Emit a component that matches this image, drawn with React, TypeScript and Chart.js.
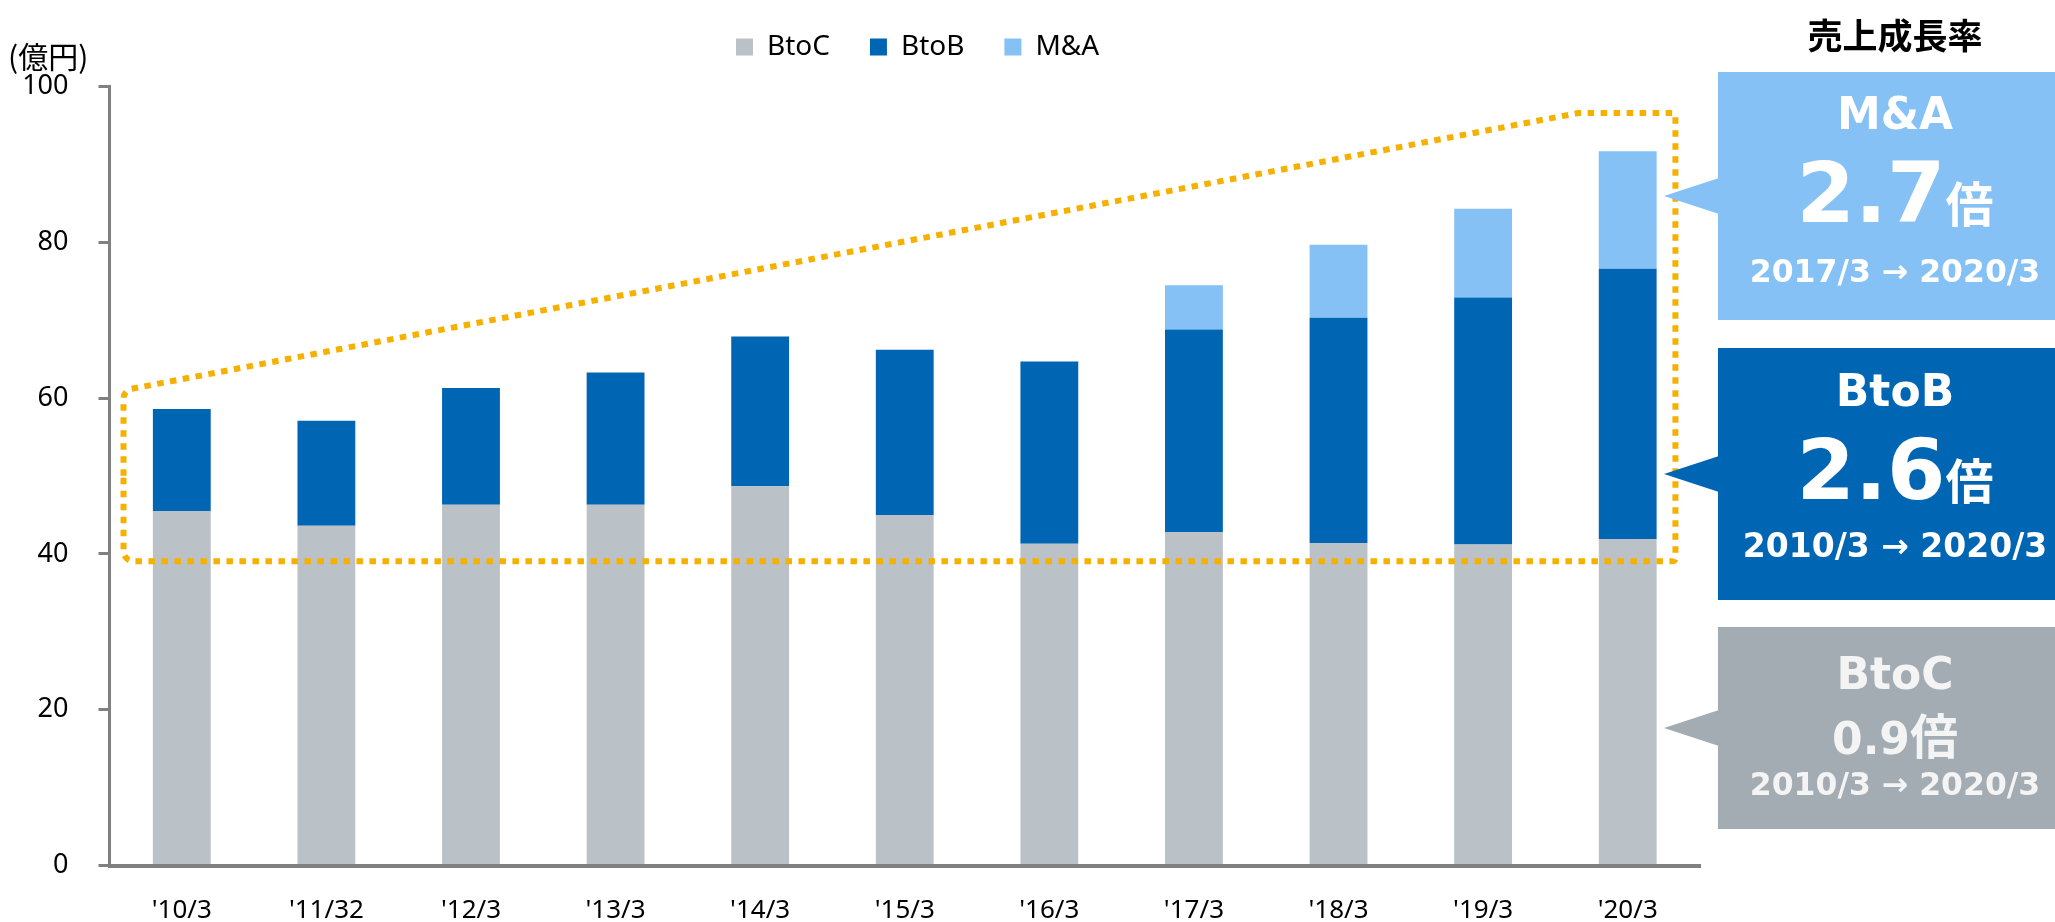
import React, { useEffect, useRef } from 'react';
import { Chart, registerables } from 'chart.js';

Chart.register(...registerables);

// ---------- data ----------
const categories = ["'10/3", "'11/32", "'12/3", "'13/3", "'14/3", "'15/3", "'16/3", "'17/3", "'18/3", "'19/3", "'20/3"];
const btocValues = [45.5, 43.6, 46.3, 46.3, 48.7, 45.0, 41.3, 42.8, 41.4, 41.2, 41.9];
const btobValues = [13.1, 13.5, 15.0, 17.0, 19.2, 21.2, 23.4, 26.0, 28.9, 31.7, 34.7];
const maValues = [null, null, null, null, null, null, null, 5.7, 9.4, 11.4, 15.1];
const yTicks = [0, 20, 40, 60, 80, 100];
const seriesNames = ['BtoC', 'BtoB', 'M&A'];
const seriesColors = ['#BAC2C8', '#0066B3', '#85C1F5'];
// dashed highlight outline, in (category index, value) units
const outlineX = [-0.403, 9.66, 10.33, 10.33, -0.403];
const outlineY = [61.0, 96.6, 96.6, 39.05, 39.05];
const unitLabel = '(億円)';
const growthTitle = '売上成長率';
const growthSeries = ['M&A', 'BtoB', 'BtoC'];
const growthRates = ['2.7', '2.6', '0.9'];
const growthUnit = '倍';
const growthPeriods = ['2017/3 → 2020/3', '2010/3 → 2020/3', '2010/3 → 2020/3'];

const LEGEND_START_X = 736;
const LEGEND_CENTER_Y = 47;

const outlinePlugin = {
  id: 'highlightOutline',
  afterDatasetsDraw(chart: any) {
    const { ctx } = chart;
    const xs = chart.scales.x;
    const ys = chart.scales.y;
    const pts = outlineX.map((v, i) => ({ x: xs.getPixelForValue(v), y: ys.getPixelForValue(outlineY[i]) }));
    const radii = [10, 3, 2, 3, 10];
    const n = pts.length;
    ctx.save();
    ctx.strokeStyle = '#F5B000';
    ctx.lineWidth = 6;
    ctx.setLineDash([6.5, 6.5]);
    ctx.lineCap = 'butt';
    ctx.beginPath();
    const sx = (pts[n - 1].x + pts[0].x) / 2;
    const sy = (pts[n - 1].y + pts[0].y) / 2;
    ctx.moveTo(sx, sy);
    for (let i = 0; i < n; i++) {
      const p = pts[i];
      const q = pts[(i + 1) % n];
      ctx.arcTo(p.x, p.y, q.x, q.y, radii[i]);
    }
    ctx.closePath();
    ctx.stroke();
    ctx.restore();
  },
};

const legendShiftPlugin = {
  id: 'legendShift',
  afterLayout(chart: any) {
    const l = chart.legend;
    if (!l || !l.lineWidths) return;
    const pad = l.options.labels.padding;
    const fontSize = l.options.labels.font.size || 12;
    const boxH = l.options.labels.boxHeight || fontSize;
    const itemH = Math.max(fontSize, boxH);
    const x0 = (l.left + pad + l.right - l.lineWidths[0]) / 2;
    const dx = LEGEND_START_X - x0;
    const dy = LEGEND_CENTER_Y - (l.top + pad + itemH / 2);
    l.left += dx;
    l.right += dx;
    l.top += dy;
    l.bottom += dy;
  },
};

const PANEL_LEFT = 1718;
const PANEL_WIDTH = 337;
const TEXT_WIDTH = 354;
const boxTops = [72, 348, 627];
const boxHeights = [248, 252, 202];
const boxColors = ['#85C1F5', '#0066B3', '#A2ACB2'];
const textColors = ['#FFFFFF', '#FFFFFF', '#F4F4F4'];
const labelBaselines = [129, 406, 689];
const rateBaselines = [222, 499, 746];
const rateSizes = [84, 84, 44];
const unitSizes = [48, 48, 48];
const periodBaselines = [282.5, 557, 795.5];
const periodSizes = [31.5, 33, 31.5];

const DV = '"DejaVu Sans", "Noto Sans CJK JP", sans-serif';
const CJK = '"Noto Sans CJK JP", sans-serif';

function Line(props: { baseline: number; size: number; color: string; children: any; family?: string }) {
  const { baseline, size, color, children, family } = props;
  return (
    <div
      style={{
        position: 'absolute',
        left: PANEL_LEFT,
        width: TEXT_WIDTH,
        top: baseline - 0.846 * size,
        fontSize: size,
        lineHeight: 1,
        fontWeight: 'bold',
        fontFamily: family || DV,
        color,
        textAlign: 'center',
        whiteSpace: 'nowrap',
      }}
    >
      {children}
    </div>
  );
}

export default function App() {
  const ref = useRef<HTMLCanvasElement>(null);

  useEffect(() => {
    document.body.style.margin = '0';
    Chart.defaults.font.family = '"Noto Sans", "Noto Sans CJK JP", sans-serif';
    const chart = new Chart(ref.current as HTMLCanvasElement, {
      type: 'bar',
      data: {
        labels: categories,
        datasets: [
          { label: seriesNames[0], data: btocValues, backgroundColor: seriesColors[0] },
          { label: seriesNames[1], data: btobValues, backgroundColor: seriesColors[1] },
          { label: seriesNames[2], data: maValues as any, backgroundColor: seriesColors[2] },
        ],
      },
      options: {
        responsive: false,
        animation: false,
        devicePixelRatio: 1,
        layout: { padding: { top: 8.5, right: 355, left: 0, bottom: 0 } },
        datasets: { bar: { categoryPercentage: 1, barPercentage: 0.4 } },
        plugins: {
          legend: {
            position: 'top',
            labels: { boxWidth: 17, boxHeight: 17, padding: 40, color: '#000', font: { size: 28 } },
          },
          tooltip: { enabled: false },
        },
        scales: {
          x: {
            stacked: true,
            grid: { display: false, drawTicks: false },
            border: { color: '#808080', width: 4 },
            ticks: { color: '#000', font: { size: 26 }, padding: 29 },
            afterFit: (s: any) => {
              s.height = 56.5;
            },
          },
          y: {
            stacked: true,
            min: 0,
            max: 100,
            afterBuildTicks: (s: any) => {
              s.ticks = yTicks.map((v) => ({ value: v }));
            },
            grid: { drawOnChartArea: false, drawTicks: true, tickLength: 11, color: '#808080', lineWidth: 3 },
            border: { color: '#808080', width: 3 },
            ticks: { color: '#000', font: { size: 27 }, padding: 30 },
            afterFit: (s: any) => {
              s.width = 109.5;
            },
          },
        },
      } as any,
      plugins: [outlinePlugin, legendShiftPlugin],
    });
    return () => chart.destroy();
  }, []);

  return (
    <div style={{ position: 'relative', width: 2055, height: 922, overflow: 'hidden', background: '#fff' }}>
      <canvas ref={ref} width={2055} height={922} style={{ position: 'absolute', left: 0, top: 0, width: 2055, height: 922 }} />
      <div
        style={{
          position: 'absolute',
          left: 8,
          top: 39.5,
          fontSize: 30,
          lineHeight: 1,
          fontFamily: CJK,
          color: '#000',
          whiteSpace: 'nowrap',
        }}
      >
        {unitLabel}
      </div>
      <div
        style={{
          position: 'absolute',
          left: PANEL_LEFT,
          width: TEXT_WIDTH,
          top: 15.5,
          fontSize: 35,
          lineHeight: 1,
          fontWeight: 'bold',
          fontFamily: CJK,
          color: '#000',
          textAlign: 'center',
          whiteSpace: 'nowrap',
        }}
      >
        {growthTitle}
      </div>
      {growthSeries.map((name, i) => {
        const mid = boxTops[i] + boxHeights[i] / 2;
        return (
          <React.Fragment key={name}>
            <div
              style={{
                position: 'absolute',
                left: PANEL_LEFT,
                top: boxTops[i],
                width: PANEL_WIDTH,
                height: boxHeights[i],
                background: boxColors[i],
              }}
            />
            <div
              style={{
                position: 'absolute',
                left: PANEL_LEFT - 54,
                top: mid - 18,
                width: 55,
                height: 36,
                background: boxColors[i],
                clipPath: 'polygon(0% 50%, 100% 0%, 100% 100%)',
              }}
            />
            <Line baseline={labelBaselines[i]} size={44} color={textColors[i]}>
              {name}
            </Line>
            <Line baseline={rateBaselines[i]} size={rateSizes[i]} color={textColors[i]}>
              {growthRates[i]}
              <span style={{ fontSize: unitSizes[i], fontFamily: CJK }}>{growthUnit}</span>
            </Line>
            <Line baseline={periodBaselines[i]} size={periodSizes[i]} color={textColors[i]}>
              {growthPeriods[i]}
            </Line>
          </React.Fragment>
        );
      })}
    </div>
  );
}
